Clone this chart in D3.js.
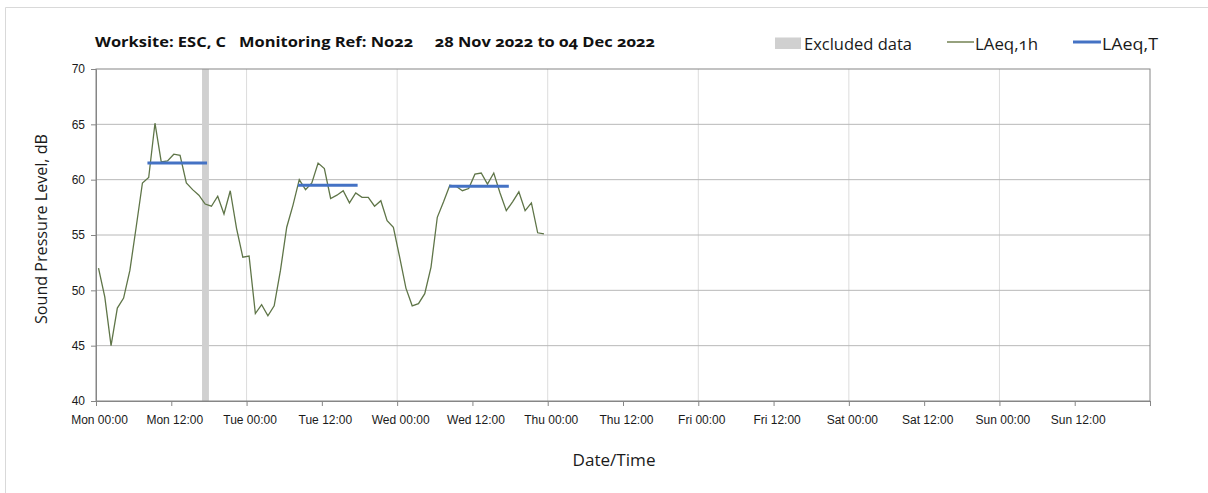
<!DOCTYPE html>
<html>
<head>
<meta charset="utf-8">
<script src="https://cdn.jsdelivr.net/npm/d3@7/dist/d3.min.js"></script>
<style>
  body { margin: 0; background: #fff; }
  svg { display: block; font-family: "Open Sans", Lato, sans-serif; font-variant-numeric: oldstyle-nums; font-feature-settings: "onum" 1; }
  .axis path, .axis line { stroke: #868686; }
  .axis text { fill: #1a1a1a; font-size: 12px; }
</style>
</head>
<body>
<svg id="chart" width="1208" height="493"></svg>
<script>
// hourly LAeq,1h values, first reading at Mon 00:24, one per hour
var startHour = 0.4;
var laeq1h = [
  52.0, 49.4, 45.0, 48.4, 49.3, 51.8, 55.7, 59.7, 60.2, 65.1, 61.6, 61.7,
  62.3, 62.2, 59.7, 59.1, 58.6, 57.8, 57.6, 58.5, 56.9, 59.0, 55.6, 53.0,
  53.1, 47.9, 48.7, 47.7, 48.6, 51.8, 55.7, 57.7, 60.0, 59.1, 59.7, 61.5,
  61.0, 58.3, 58.6, 59.0, 57.9, 58.8, 58.4, 58.4, 57.6, 58.1, 56.3, 55.7,
  53.0, 50.2, 48.6, 48.8, 49.7, 52.1, 56.6, 58.0, 59.5, 59.4, 59.0, 59.2,
  60.5, 60.6, 59.6, 60.6, 58.8, 57.2, 58.0, 58.9, 57.2, 57.9, 55.2, 55.1
];

// LAeq,T over the daytime periods (hours from Mon 00:00)
var periodStart = [8.2, 32.2, 56.3];
var periodEnd = [17.7, 41.7, 65.8];
var periodValue = [61.5, 59.5, 59.4];

// excluded data window (hours from Mon 00:00)
var excludedStart = [16.9];
var excludedEnd = [18.0];

var xTickLabels = ["Mon 00:00", "Mon 12:00", "Tue 00:00", "Tue 12:00", "Wed 00:00", "Wed 12:00",
  "Thu 00:00", "Thu 12:00", "Fri 00:00", "Fri 12:00", "Sat 00:00", "Sat 12:00",
  "Sun 00:00", "Sun 12:00"];
var yTicks = [40, 45, 50, 55, 60, 65, 70];

var svg = d3.select("#chart");
var MARGINS = { top: 69, right: 58, bottom: 92, left: 96 },
    WIDTH = 1208, HEIGHT = 493;

var xScale = d3.scaleLinear().domain([0, 168]).range([MARGINS.left, WIDTH - MARGINS.right]);
var yScale = d3.scaleLinear().domain([40, 70]).range([HEIGHT - MARGINS.bottom, MARGINS.top]);

// outer frame
svg.append("path")
  .attr("d", "M5.5,493 V7.5 H1208")
  .attr("fill", "none").attr("stroke", "#d9d9d9");

// gridlines
svg.append("g").selectAll("line")
  .data(d3.range(24, 168, 24))
  .join("line")
  .attr("x1", function (d) { return xScale(d); }).attr("x2", function (d) { return xScale(d); })
  .attr("y1", yScale(70)).attr("y2", yScale(40))
  .attr("stroke", "#dcdcdc");

svg.append("g").selectAll("line")
  .data(yTicks.slice(1, -1))
  .join("line")
  .attr("x1", xScale(0)).attr("x2", xScale(168))
  .attr("y1", function (d) { return yScale(d); }).attr("y2", function (d) { return yScale(d); })
  .attr("stroke", "#b8b8b8");

// excluded band
svg.append("g").selectAll("rect")
  .data(excludedStart)
  .join("rect")
  .attr("x", function (d) { return xScale(d); })
  .attr("width", function (d, i) { return xScale(excludedEnd[i]) - xScale(d); })
  .attr("y", yScale(70)).attr("height", yScale(40) - yScale(70))
  .attr("fill", "#d0d0d0");

// plot frame
svg.append("rect")
  .attr("x", xScale(0)).attr("y", yScale(70))
  .attr("width", xScale(168) - xScale(0)).attr("height", yScale(40) - yScale(70))
  .attr("fill", "none").attr("stroke", "#868686");

var yAxis = d3.axisLeft(yScale).tickValues(yTicks).tickSize(5).tickPadding(6);
svg.append("g").attr("class", "axis")
  .attr("transform", "translate(" + MARGINS.left + ",0)")
  .call(yAxis);

var xAxis = d3.axisBottom(xScale).tickValues(d3.range(0, 169, 12)).tickSize(5).tickPadding(9)
  .tickFormat(function (d, i) { return xTickLabels[i] || ""; });
svg.append("g").attr("class", "axis")
  .attr("transform", "translate(0," + (HEIGHT - MARGINS.bottom) + ")")
  .call(xAxis)
  .selectAll("text").attr("dx", 3);

// LAeq,1h line
var lineGen = d3.line()
  .x(function (d, i) { return xScale(startHour + i); })
  .y(function (d) { return yScale(d); });

svg.append("path")
  .attr("d", lineGen(laeq1h))
  .attr("fill", "none")
  .attr("stroke", "#5f7548")
  .attr("stroke-width", 1.3);

// LAeq,T lines
svg.append("g").selectAll("line")
  .data(periodValue)
  .join("line")
  .attr("x1", function (d, i) { return xScale(periodStart[i]); })
  .attr("x2", function (d, i) { return xScale(periodEnd[i]); })
  .attr("y1", function (d) { return yScale(d); })
  .attr("y2", function (d) { return yScale(d); })
  .attr("stroke", "#4472c4")
  .attr("stroke-width", 3);

// title
svg.append("text")
  .attr("x", 95).attr("y", 47)
  .attr("font-size", "15px").attr("font-weight", "bold").attr("fill", "#111")
  .attr("xml:space", "preserve")
  .attr("textLength", 560).attr("lengthAdjust", "spacingAndGlyphs")
  .text("Worksite: ESC, C   Monitoring Ref: No22     28 Nov 2022 to 04 Dec 2022");

// axis titles
svg.append("text")
  .attr("transform", "translate(47,229) rotate(-90)")
  .attr("text-anchor", "middle").attr("font-size", "15.5px").attr("fill", "#1a1a1a")
  .attr("textLength", 190).attr("lengthAdjust", "spacingAndGlyphs")
  .text("Sound Pressure Level, dB");

svg.append("text")
  .attr("x", 614).attr("y", 466)
  .attr("text-anchor", "middle").attr("font-size", "16px").attr("fill", "#1a1a1a")
  .attr("textLength", 83).attr("lengthAdjust", "spacingAndGlyphs")
  .text("Date/Time");

// legend
var legend = svg.append("g").attr("font-size", "16px").attr("fill", "#1a1a1a");
legend.append("rect").attr("x", 775).attr("y", 37.5).attr("width", 26).attr("height", 11.5).attr("fill", "#d0d0d0");
legend.append("text").attr("x", 804).attr("y", 49.5)
  .attr("textLength", 108).attr("lengthAdjust", "spacingAndGlyphs").text("Excluded data");
legend.append("line").attr("x1", 947).attr("x2", 974).attr("y1", 42).attr("y2", 42)
  .attr("stroke", "#4f6228").attr("stroke-width", 1.2);
legend.append("text").attr("x", 975).attr("y", 49.5)
  .attr("textLength", 63).attr("lengthAdjust", "spacingAndGlyphs").text("LAeq,1h");
legend.append("line").attr("x1", 1073).attr("x2", 1101).attr("y1", 42).attr("y2", 42)
  .attr("stroke", "#4472c4").attr("stroke-width", 3);
legend.append("text").attr("x", 1102).attr("y", 49.5)
  .attr("textLength", 56).attr("lengthAdjust", "spacingAndGlyphs").text("LAeq,T");
</script>
</body>
</html>
